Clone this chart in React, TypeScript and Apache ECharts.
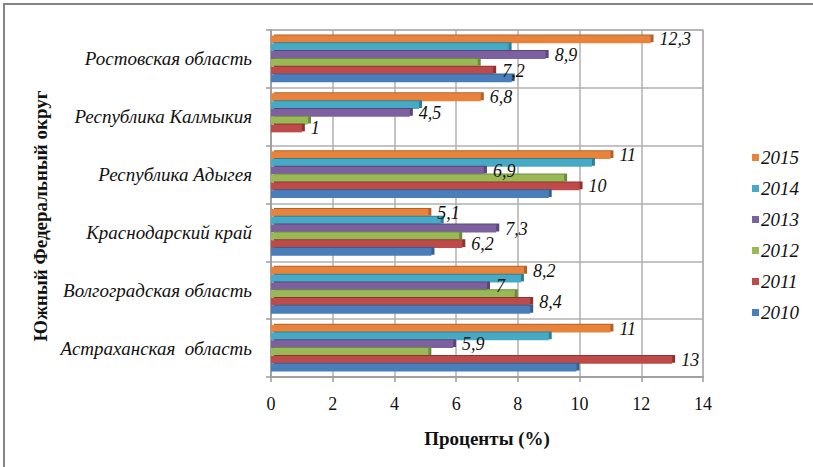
import React, { useEffect, useRef } from "react";
import * as echarts from "echarts";

// Regions of the Southern Federal District, bottom to top on the axis
const regions = [
  "Астраханская  область",
  "Волгоградская область",
  "Краснодарский край",
  "Республика Адыгея",
  "Республика Калмыкия",
  "Ростовская область",
];

// Years listed top-down inside each group of bars
const years = ["2015", "2014", "2013", "2012", "2011", "2010"];

// Percent values per year, in the same order as regions
const v2015 = [11, 8.2, 5.1, 11, 6.8, 12.3];
const v2014 = [9.0, 8.1, 5.5, 10.4, 4.8, 7.7];
const v2013 = [5.9, 7, 7.3, 6.9, 4.5, 8.9];
const v2012 = [5.1, 7.9, 6.1, 9.5, 1.2, 6.7];
const v2011 = [13, 8.4, 6.2, 10, 1, 7.2];
const v2010 = [9.9, 8.4, 5.2, 9.0, 0.0, 7.8];

const seriesValues = [v2015, v2014, v2013, v2012, v2011, v2010];
const labelledYears = ["2011", "2013", "2015"];

const colors = ["#E8833A", "#46AAC5", "#7D60A0", "#98B954", "#BE4B48", "#4A7EBB"];
const capColors = ["#B5612A", "#2F7F95", "#5A4477", "#6F8A3A", "#8E3331", "#35608F"];

const xTicks = { min: 0, max: 14, interval: 2 };

const serif = "Liberation Serif";

export default function App() {
  const ref = useRef<HTMLDivElement>(null);

  useEffect(() => {
    if (!ref.current) return;
    const chart = echarts.init(ref.current, undefined, { renderer: "svg" });

    const series = years.map((year, i) => ({
      name: year,
      type: "bar" as const,
      data: seriesValues[i],
      barGap: "0%",
      barCategoryGap: "19%",
      itemStyle: {
        color: colors[i],
        shadowColor: capColors[i],
        shadowOffsetX: 3,
        shadowOffsetY: -1,
        shadowBlur: 0,
      },
      label: {
        show: labelledYears.includes(year),
        position: "right" as const,
        distance: 9,
        fontFamily: serif,
        fontStyle: "italic" as const,
        fontSize: 18,
        color: "#111",
        formatter: (p: any) => String(p.value).replace(".", ","),
      },
    }));

    chart.setOption({
      animation: false,
      backgroundColor: "#ffffff",
      grid: { left: 271, right: 110, top: 30, bottom: 90, show: false },
      legend: {
        orient: "vertical",
        left: 747,
        top: 143,
        data: years,
        icon: "rect",
        itemWidth: 7,
        itemHeight: 7,
        itemGap: 12,
        textStyle: {
          fontFamily: serif,
          fontStyle: "italic",
          fontSize: 19,
          color: "#111",
          lineHeight: 19,
          padding: [0, 0, 0, -3],
        },
      },
      xAxis: {
        type: "value",
        min: xTicks.min,
        max: xTicks.max,
        interval: xTicks.interval,
        name: "Проценты (%)",
        nameLocation: "middle",
        nameGap: 52,
        nameTextStyle: {
          fontFamily: serif,
          fontWeight: "bold",
          fontSize: 19,
          color: "#111",
        },
        axisLine: { show: true, lineStyle: { color: "#9a9a9a", width: 1.5 } },
        axisTick: { show: true, length: 5, lineStyle: { color: "#9a9a9a", width: 1.5 } },
        axisLabel: {
          margin: 18,
          fontFamily: serif,
          fontSize: 18,
          color: "#111",
        },
        splitLine: { show: true, lineStyle: { color: "#b0b0b0", width: 1.5 } },
      },
      yAxis: {
        type: "category",
        data: regions,
        axisLine: { show: true, lineStyle: { color: "#9a9a9a", width: 1.5 } },
        axisTick: { show: true, length: 5, lineStyle: { color: "#9a9a9a", width: 1.5 } },
        axisLabel: {
          margin: 19,
          fontFamily: serif,
          fontStyle: "italic",
          fontSize: 19,
          color: "#111",
        },
        splitLine: { show: true, lineStyle: { color: "#b0b0b0", width: 1.5 } },
      },
      graphic: [
        {
          type: "rect",
          shape: { x: 4, y: 4, width: 830, height: 480 },
          style: { fill: "none", stroke: "#858585", lineWidth: 2 },
          silent: true,
        },
        {
          type: "rect",
          shape: { x: 271, y: 30, width: 432, height: 347 },
          style: { fill: "none", stroke: "#b0b0b0", lineWidth: 1.5 },
          silent: true,
          z: -1,
        },
        {
          type: "text",
          x: 40,
          y: 216,
          rotation: Math.PI / 2,
          style: {
            text: "Южный Федеральный округ",
            font: "bold 19px Liberation Serif",
            fill: "#111",
            align: "center",
            verticalAlign: "middle",
          },
          silent: true,
        },
      ],
      series,
    });

    return () => chart.dispose();
  }, []);

  return (
    <div
      ref={ref}
      style={{ position: "fixed", left: 0, top: 0, width: 813, height: 467 }}
    />
  );
}
